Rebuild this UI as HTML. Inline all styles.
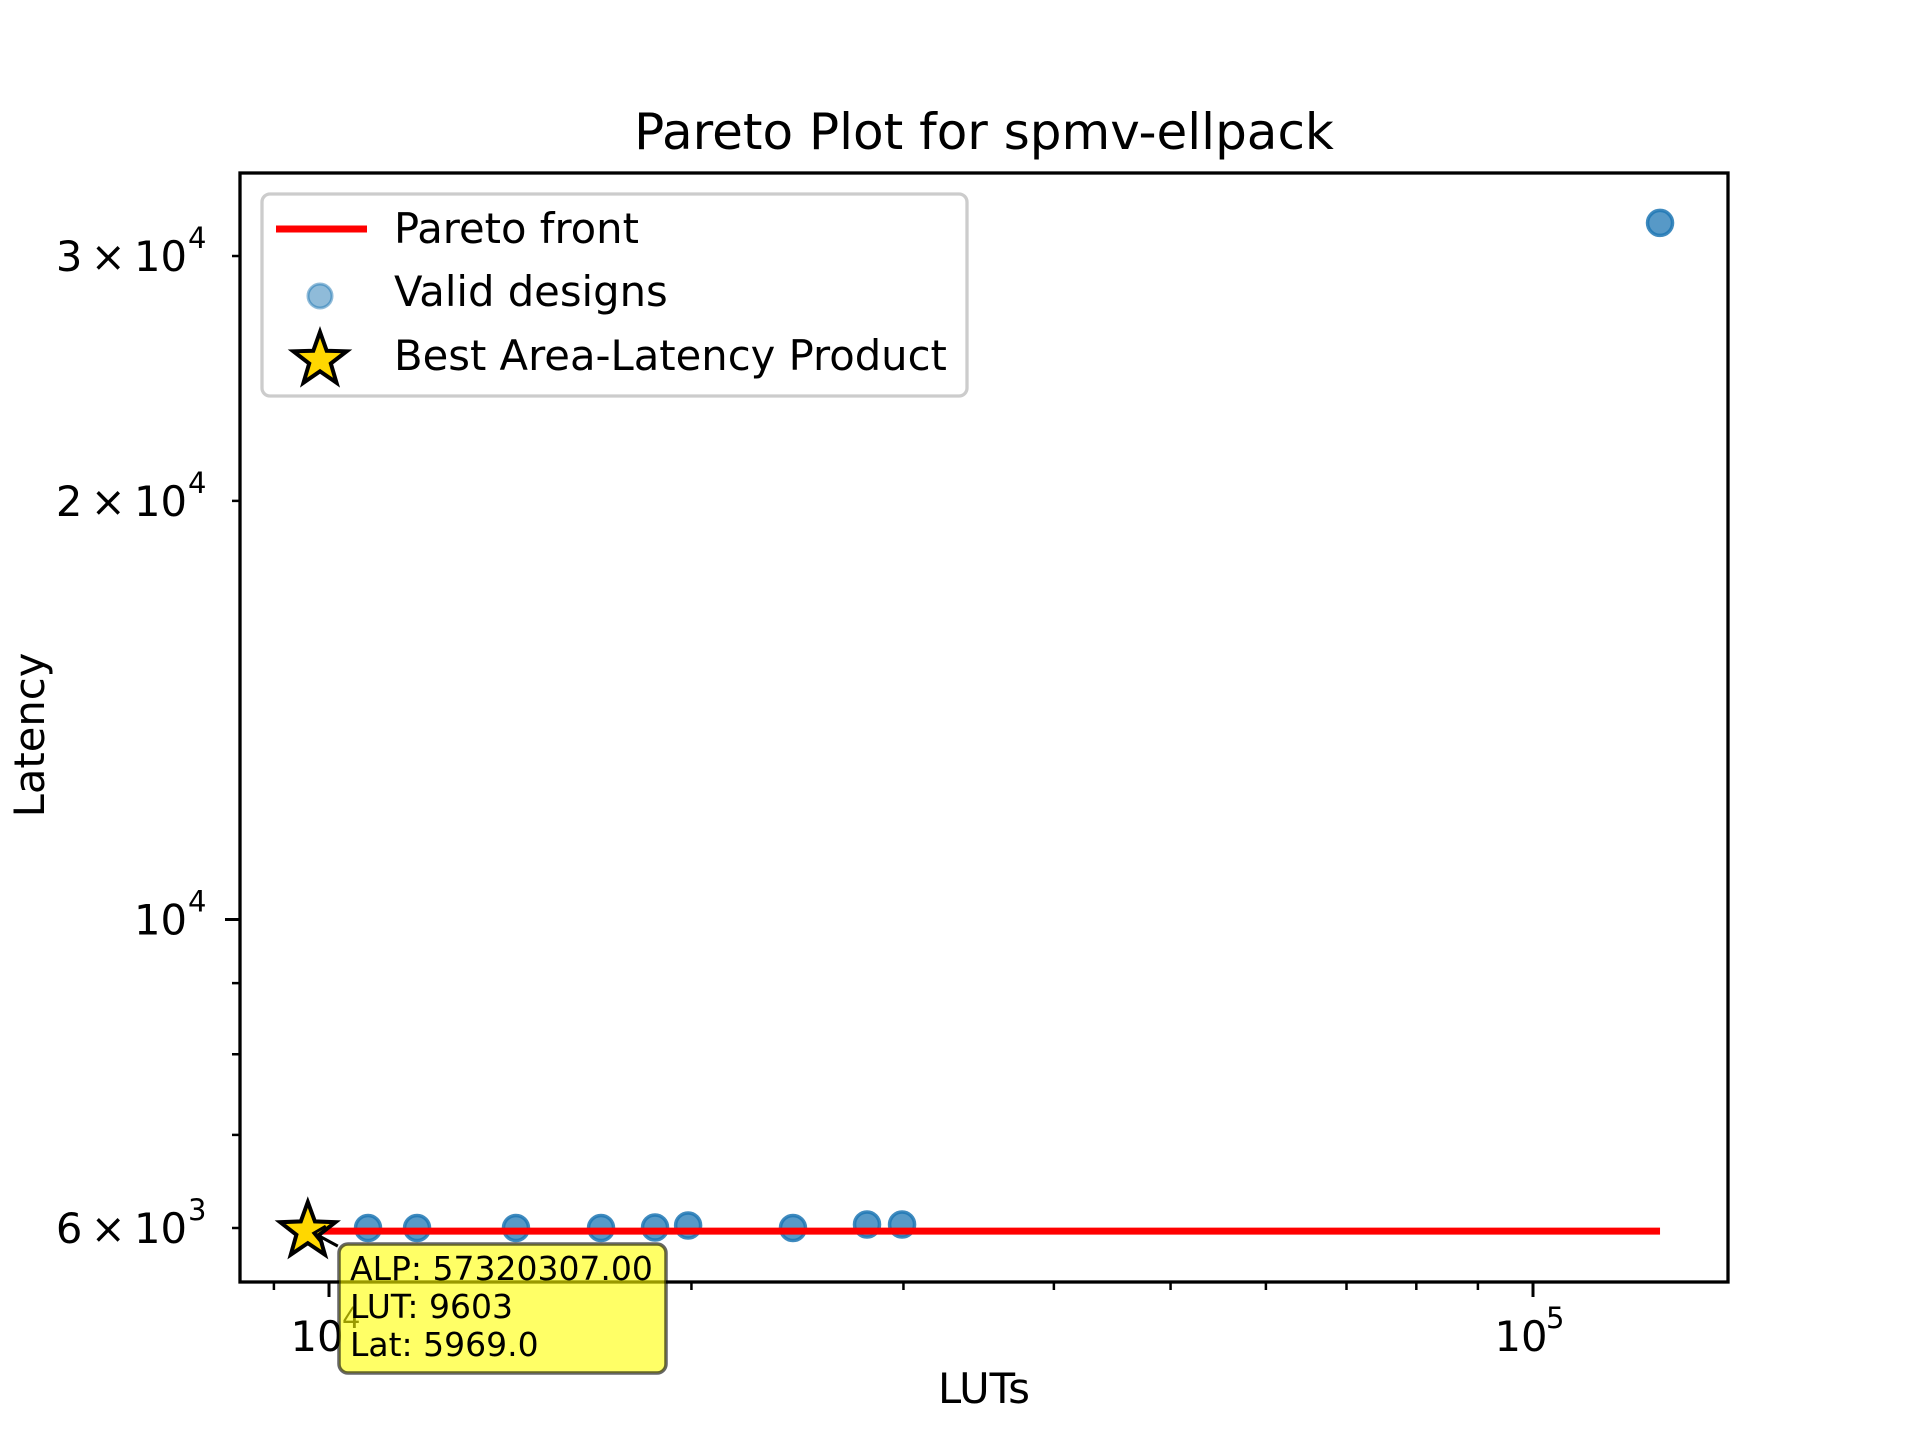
<!DOCTYPE html>
<html><head><meta charset="utf-8"><style>
html,body{margin:0;padding:0;background:#fff;}
svg{display:block;font-family:"DejaVu Sans","Liberation Sans",sans-serif;}
</style></head><body>
<svg id="chart" width="1920" height="1440" viewBox="0 0 1920 1440" xmlns="http://www.w3.org/2000/svg">
<rect width="1920" height="1440" fill="#fff"/>
<text x="984" y="149" font-size="50" text-anchor="middle">Pareto Plot for spmv-ellpack</text>
<text x="984" y="1403" font-size="41.7" text-anchor="middle">LUTs</text>
<text transform="translate(44,735) rotate(-90)" font-size="41.7" text-anchor="middle">Latency</text>
<g id="ticks"></g>
<g id="marks"></g>
<rect x="240" y="173" width="1488" height="1109" fill="none" stroke="#000" stroke-width="3.3"/>
<g id="annot"></g>
<g>
<rect x="262" y="194" width="705" height="202" rx="8" fill="#fff" fill-opacity="0.8" stroke="#ccc" stroke-width="3.3"/>
<line x1="276" y1="229" x2="367" y2="229" stroke="#f00" stroke-width="7"/>
<text x="394" y="243" font-size="41.7">Pareto front</text>
<circle cx="320" cy="296" r="12" fill="#1f77b4" fill-opacity="0.5" stroke="#1f77b4" stroke-opacity="0.5" stroke-width="3"/>
<text x="394" y="306" font-size="41.7">Valid designs</text>
<polygon points="320,332 326.7,350.8 346.6,351.3 330.8,363.5 336.5,382.7 320,371.3 303.5,382.7 309.2,363.5 293.4,351.3 313.3,350.8" fill="#ffd700" stroke="#000" stroke-width="4"/>
<text x="394" y="370" font-size="41.7">Best Area-Latency Product</text>
</g>
</svg>
<script>
const lutValues=[10775,11834,14298,16824,18655,19873,24286,27980,29920,127500];
const latValues=[6000,6000,6000,6000,6005,6025,6000,6035,6035,31690];
const paretoLut=[9603,127500];
const paretoLat=[5969,5969];
const bestLut=9603, bestLat=5969;
const xMajorTicks=[10000,100000];
const xMajorLabels=["4","5"];
const xMinorTicks=[9000,20000,30000,40000,50000,60000,70000,80000,90000];
const yMajorTicks=[10000];
const yMinorTicks=[6000,7000,8000,9000,20000,30000];
const yMinorLabels={6000:"6",20000:"2",30000:"3"};

const NS="http://www.w3.org/2000/svg";
function X(v){return 329+(Math.log10(v)-4)*1204;}
function Y(v){return 1228-(Math.log10(v)-Math.log10(6000))*1390.6;}
function mk(tag,attrs,parent){const e=document.createElementNS(NS,tag);for(const k in attrs)e.setAttribute(k,attrs[k]);parent.appendChild(e);return e;}
const ticks=document.getElementById('ticks'),marks=document.getElementById('marks'),annot=document.getElementById('annot');
xMajorTicks.forEach((v,i)=>{
  const l=mk('line',{x1:X(v),x2:X(v),y1:1282,y2:1297,stroke:'#000','stroke-width':3},ticks);
  
  
  const t=mk('text',{x:X(v)-12,y:1351,'font-size':41.7,'text-anchor':'middle'},ticks);
  
  
  t.textContent='10';
  const s=mk('text',{x:X(v)+13,y:1328,'font-size':29},ticks);
  
  
  s.textContent=xMajorLabels[i];
});
xMinorTicks.forEach(v=>{
  const l=mk('line',{x1:X(v),x2:X(v),y1:1282,y2:1290,stroke:'#000','stroke-width':2.5},ticks);
  
  
});
yMajorTicks.forEach(v=>{
  const l=mk('line',{x1:225,x2:240,y1:Y(v),y2:Y(v),stroke:'#000','stroke-width':3},ticks);
  
  
  const t=mk('text',{x:187,y:Y(v)+15,'font-size':41.7,'text-anchor':'end'},ticks);
  
  
  t.textContent='10';
  const s=mk('text',{x:188,y:Y(v)-8,'font-size':29},ticks);
  
  
  s.textContent='4';
});
yMinorTicks.forEach(v=>{
  const l=mk('line',{x1:232,x2:240,y1:Y(v),y2:Y(v),stroke:'#000','stroke-width':2.5},ticks);
  
  
  if(yMinorLabels[v]){
    const t=mk('text',{x:187,y:Y(v)+15,'font-size':41.7,'text-anchor':'end'},ticks);
    
    
    t.textContent=yMinorLabels[v]+'\u2009\u00d7\u200910';
    const s=mk('text',{x:188,y:Y(v)-8,'font-size':29},ticks);
    
    
    s.textContent=v<10000?'3':'4';
  }
});
lutValues.forEach((v,i)=>{
  const c=mk('circle',{cx:X(v),cy:Y(latValues[i]),r:12.5,fill:'#1f77b4','fill-opacity':0.75,stroke:'#1f77b4','stroke-opacity':0.85,'stroke-width':3.5},marks);
  
  
});
const pl=mk('polyline',{points:paretoLut.map((v,i)=>X(v)+','+Y(paretoLat[i])).join(' '),fill:'none',stroke:'#f00','stroke-width':7},marks);


(function(){
  const cx=X(bestLut),cy=Y(bestLat),R=29,r=12;let pts=[];
  for(let k=0;k<10;k++){const a=-Math.PI/2+k*Math.PI/5,rr=k%2?r:R;pts.push((cx+rr*Math.cos(a)).toFixed(1)+','+(cy+rr*Math.sin(a)).toFixed(1));}
  const s=mk('polygon',{points:pts.join(' '),fill:'#ffd700',stroke:'#000','stroke-width':4,'stroke-linejoin':'miter'},marks);
  
  
  const a=mk('path',{d:`M${cx+30},${cy+15} L${cx+6},${cy+2} M${cx+18},${cy-5} L${cx+6},${cy+2} L${cx+15},${cy+13}`,fill:'none',stroke:'#000','stroke-width':3},annot);
  
  
})();
const box=mk('rect',{x:339,y:1244,width:327,height:129,rx:9,fill:'#ffff00','fill-opacity':0.6,stroke:'#000','stroke-opacity':0.6,'stroke-width':3.5},annot);


const lines=['ALP: 57320307.00','LUT: '+bestLut,'Lat: '+bestLat.toFixed(1)];
lines.forEach((s,i)=>{
  const t=mk('text',{x:350,y:1280+i*38,'font-size':33},annot);
  
  
  t.textContent=s;
});
</script>
</body></html>
